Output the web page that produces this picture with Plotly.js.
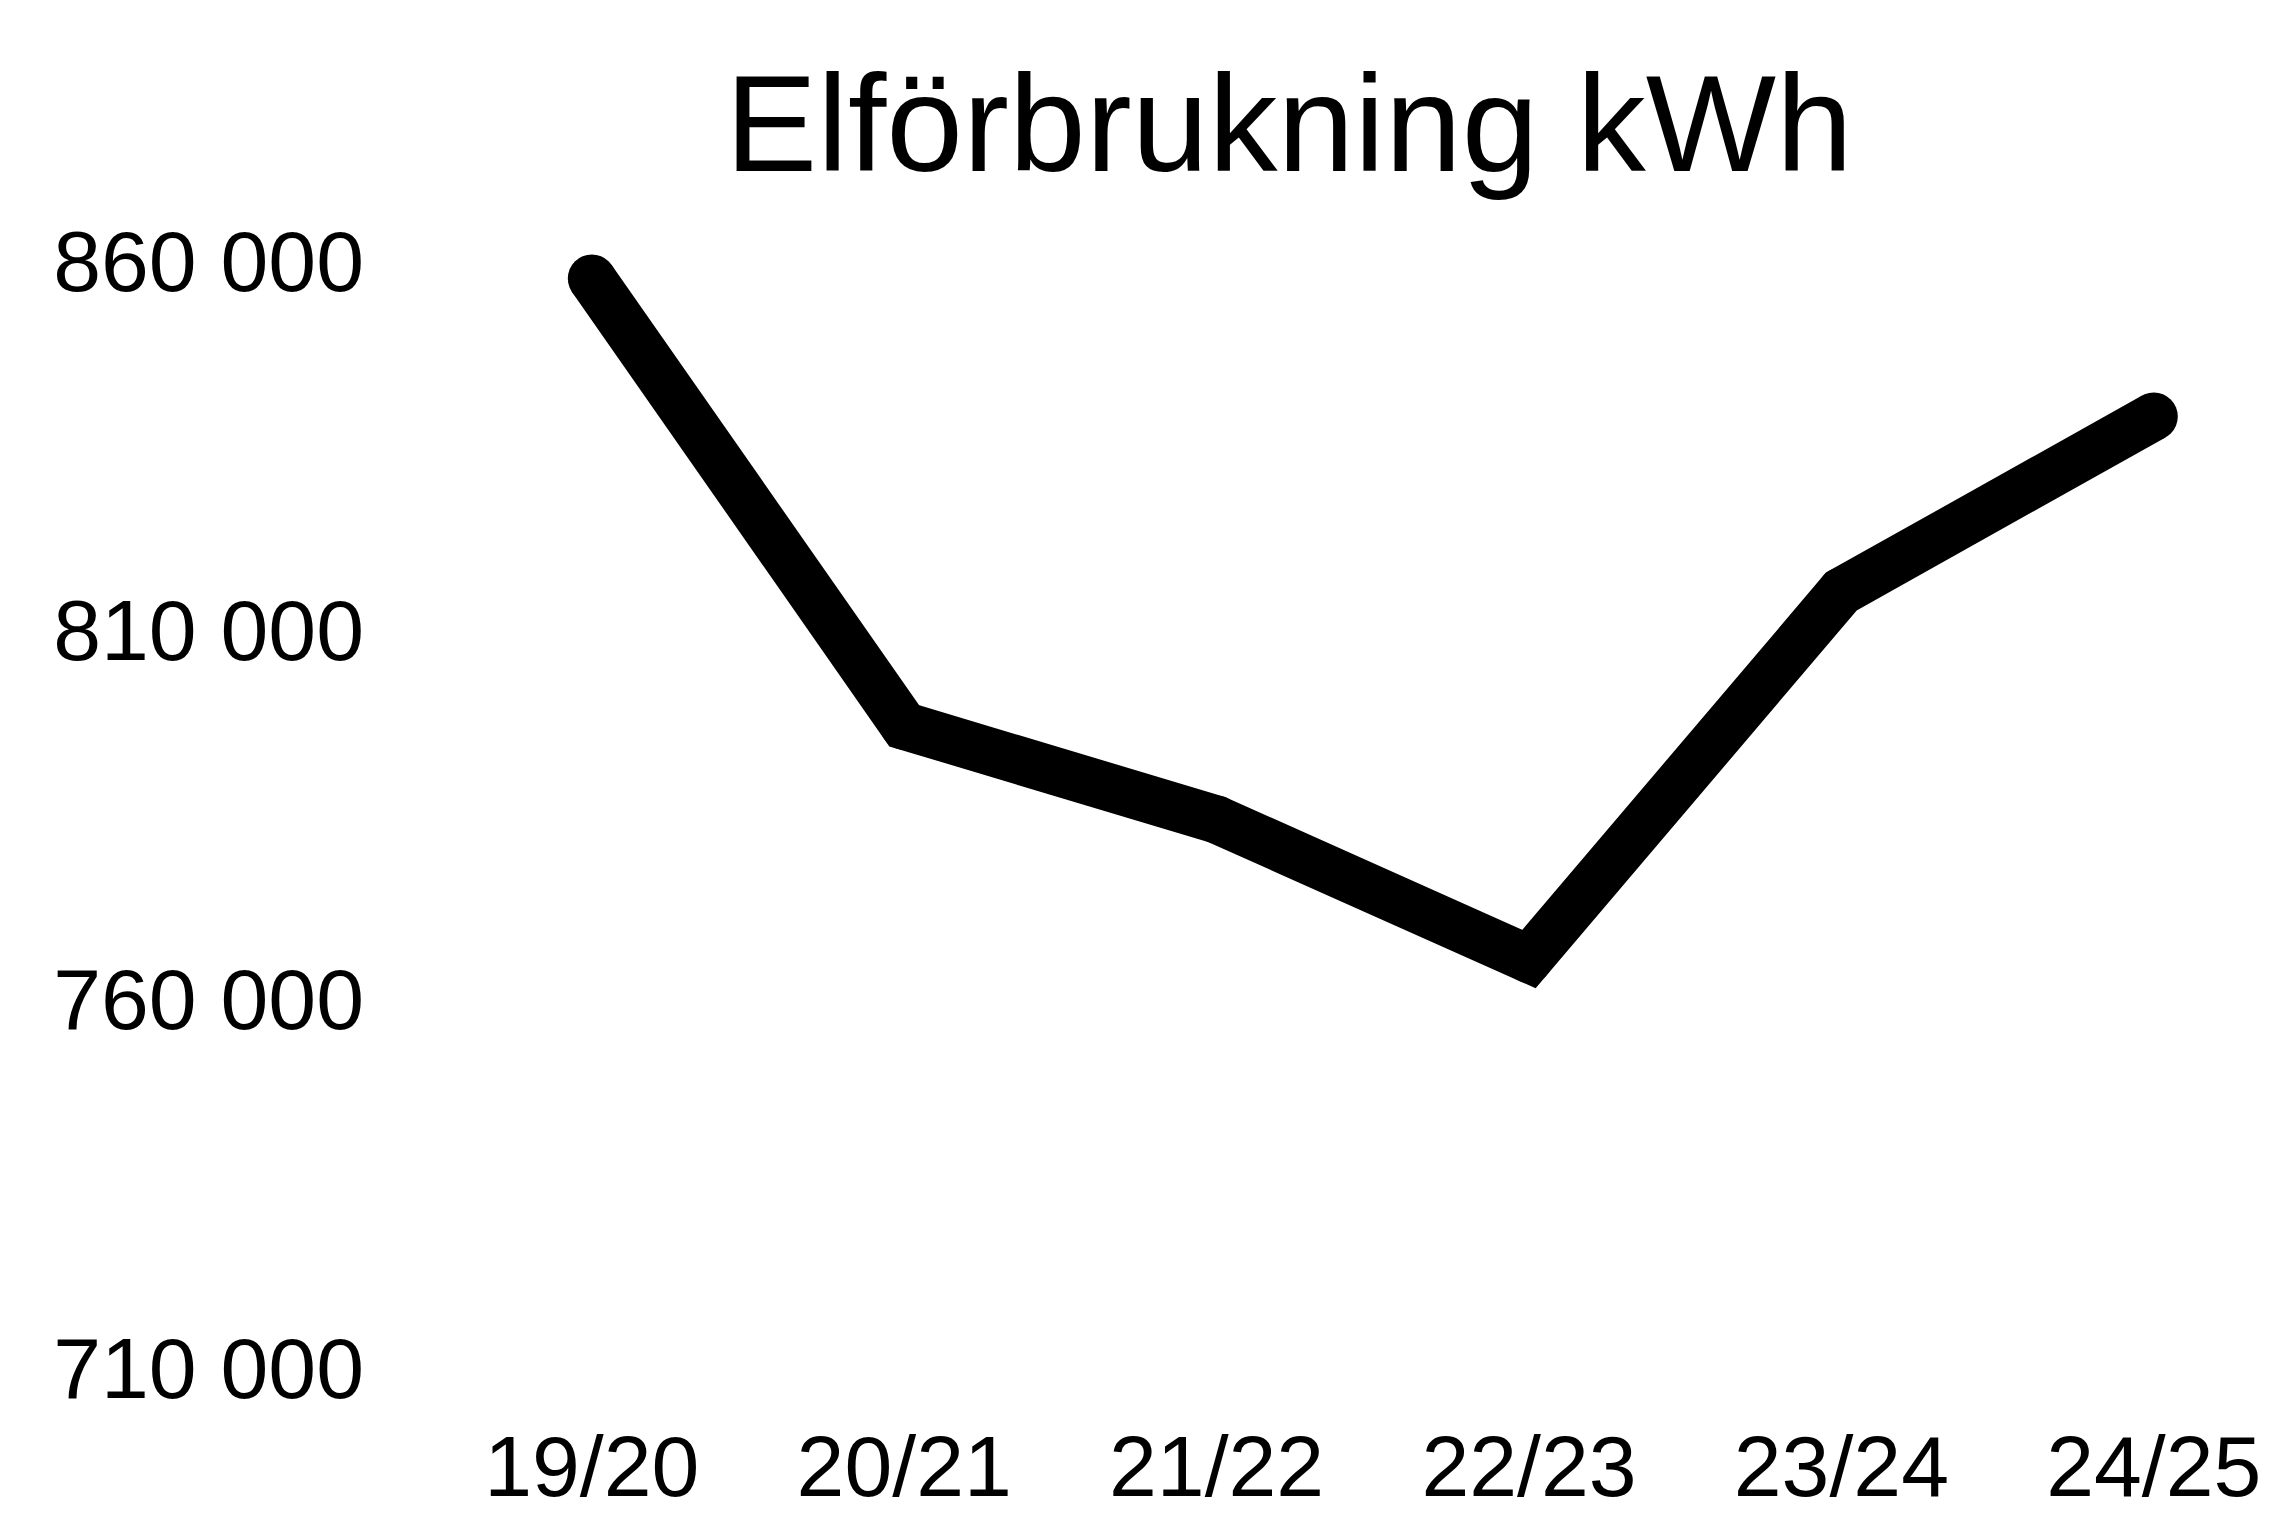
<!DOCTYPE html>
<html>
<head>
<meta charset="utf-8">
<script src="https://cdn.plot.ly/plotly-3.0.1.min.js"></script>
<style>
  html, body { margin: 0; padding: 0; background: #ffffff; }
  #chart { width: 2270px; height: 1525px; }
</style>
</head>
<body>
<div id="chart"></div>
<script>
// Data
const seasons = ["19/20", "20/21", "21/22", "22/23", "23/24", "24/25"];
const kwh = [857600, 797000, 784300, 765400, 815200, 838900];
const yTickValues = [710000, 760000, 810000, 860000];
const yTickLabels = ["710 000", "760 000", "810 000", "860 000"];
const chartTitle = "Elförbrukning kWh";

const FONT = "Liberation Sans, Arial, Helvetica, sans-serif";

const trace = {
  type: "scatter",
  mode: "lines+markers",
  x: seasons,
  y: kwh,
  line: { color: "#000000", width: 48, shape: "linear" },
  marker: { color: "#000000", size: 48, symbol: "circle", line: { width: 0 } },
  hoverinfo: "skip",
  showlegend: false
};

const layout = {
  width: 2270,
  height: 1525,
  paper_bgcolor: "#ffffff",
  plot_bgcolor: "#ffffff",
  margin: { l: 420, r: 10, t: 200, b: 118 },
  showlegend: false,
  title: {
    text: chartTitle,
    font: { family: FONT, size: 138, color: "#000000" },
    x: 1289 / 2270, xanchor: "center", xref: "container",
    y: 1 - 123 / 1525, yanchor: "middle", yref: "container"
  },
  xaxis: {
    type: "category",
    range: [-0.55, 5.34],
    showgrid: false, zeroline: false, showline: false,
    ticks: "", ticklabelstandoff: 2,
    tickfont: { family: FONT, size: 86, color: "#000000" },
    fixedrange: true
  },
  yaxis: {
    range: [704712, 868232],
    tickmode: "array",
    tickvals: yTickValues,
    ticktext: yTickLabels,
    showgrid: false, zeroline: false, showline: false,
    ticks: "", ticklabelstandoff: 55,
    tickfont: { family: FONT, size: 86, color: "#000000" },
    fixedrange: true
  },
  hovermode: false
};

Plotly.newPlot("chart", [trace], layout, { displayModeBar: false, staticPlot: true });
</script>
</body>
</html>
